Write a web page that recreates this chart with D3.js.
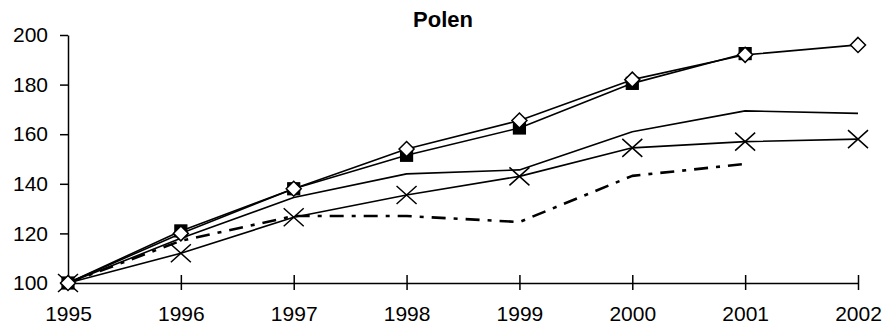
<!DOCTYPE html>
<html>
<head>
<meta charset="utf-8">
<script src="https://cdn.jsdelivr.net/npm/d3@7"></script>
<style>
  html, body { margin: 0; padding: 0; background: #fff; }
  svg { display: block; font-family: "Liberation Sans", Arial, sans-serif; }
</style>
</head>
<body>
<svg id="chart" width="887" height="331"></svg>
<script>
// Index values, 1995 = 100
const years = ["1995", "1996", "1997", "1998", "1999", "2000", "2001", "2002"];
const yTicks = [100, 120, 140, 160, 180, 200];
const title = "Polen";

const diamondSeries = [100, 120, 138, 154, 165.5, 182, 192, 196];
const squareSeries  = [100, 121, 138, 151.5, 162.5, 180.5, 192.5, null];
const plainSeries   = [100, 118, 134.5, 144, 145.6, 161, 169.4, 168.4];
const crossSeries   = [100, 112, 126.5, 135.5, 143, 154.5, 157, 158];
const dashDotSeries = [100, 117, 127, 127, 124.6, 143.2, 148, null];

const svg = d3.select("#chart");
const plot = { left: 68, right: 858, top: 35, bottom: 283 };

const x = d3.scalePoint().domain(years).range([plot.left, plot.right]).padding(0);
const y = d3.scaleLinear().domain([100, 200]).range([plot.bottom, plot.top]);

// title
svg.append("text")
  .attr("x", 443).attr("y", 27)
  .attr("text-anchor", "middle")
  .attr("font-weight", "bold")
  .attr("font-size", 22)
  .text(title);

// y axis
const yAxis = svg.append("g")
  .attr("transform", `translate(${plot.left},0)`)
  .call(d3.axisLeft(y).tickValues(yTicks).tickSize(8).tickPadding(12).tickSizeOuter(0));
yAxis.selectAll("text").attr("font-size", 21).attr("font-family", "Liberation Sans, Arial, sans-serif").attr("fill", "#000");
yAxis.selectAll("line, path").attr("stroke", "#000").attr("stroke-width", 1.5);

// x axis, ticks crossing the line
const xAxis = svg.append("g")
  .attr("transform", `translate(0,${plot.bottom})`)
  .call(d3.axisBottom(x).tickSize(7).tickSizeOuter(0));
xAxis.selectAll(".tick line").attr("y1", -8).attr("y2", 7);
xAxis.selectAll("text").attr("y", 23).attr("font-size", 21)
  .attr("font-family", "Liberation Sans, Arial, sans-serif").attr("fill", "#000");
xAxis.selectAll("line, path").attr("stroke", "#000").attr("stroke-width", 1.5);

function pts(vals) {
  return years.map((yr, i) => ({ yr, v: vals[i] })).filter(d => d.v != null);
}
const line = d3.line().x(d => x(d.yr)).y(d => y(d.v));

function drawLine(vals, opts) {
  svg.append("path")
    .datum(pts(vals))
    .attr("d", line)
    .attr("fill", "none")
    .attr("stroke", "#000")
    .attr("stroke-width", opts.width || 1.6)
    .attr("stroke-dasharray", opts.dash || null)
    .attr("stroke-linejoin", "round");
}

// plain line
drawLine(plainSeries, {});

// crosses
drawLine(crossSeries, {});
svg.append("g").selectAll("path")
  .data(pts(crossSeries))
  .join("path")
  .attr("d", d => {
    const cx = x(d.yr), cy = y(d.v), w = 10, h = 9;
    return `M${cx - w},${cy - h}L${cx + w},${cy + h}M${cx - w},${cy + h}L${cx + w},${cy - h}`;
  })
  .attr("stroke", "#000").attr("stroke-width", 1.5).attr("fill", "none");

// dash-dot
drawLine(dashDotSeries, { width: 2.6, dash: "14,8,4,8" });

// squares
drawLine(squareSeries, {});
svg.append("g").selectAll("rect")
  .data(pts(squareSeries))
  .join("rect")
  .attr("x", d => x(d.yr) - 6).attr("y", d => y(d.v) - 6)
  .attr("width", 12).attr("height", 12)
  .attr("fill", "#000").attr("stroke", "#000").attr("stroke-width", 1.2);

// diamonds
drawLine(diamondSeries, {});
svg.append("g").selectAll("path")
  .data(pts(diamondSeries))
  .join("path")
  .attr("d", d => {
    const cx = x(d.yr), cy = y(d.v), r = 7.5;
    return `M${cx},${cy - r}L${cx + r},${cy}L${cx},${cy + r}L${cx - r},${cy}Z`;
  })
  .attr("fill", "#fff").attr("stroke", "#000").attr("stroke-width", 1.5);
</script>
</body>
</html>
